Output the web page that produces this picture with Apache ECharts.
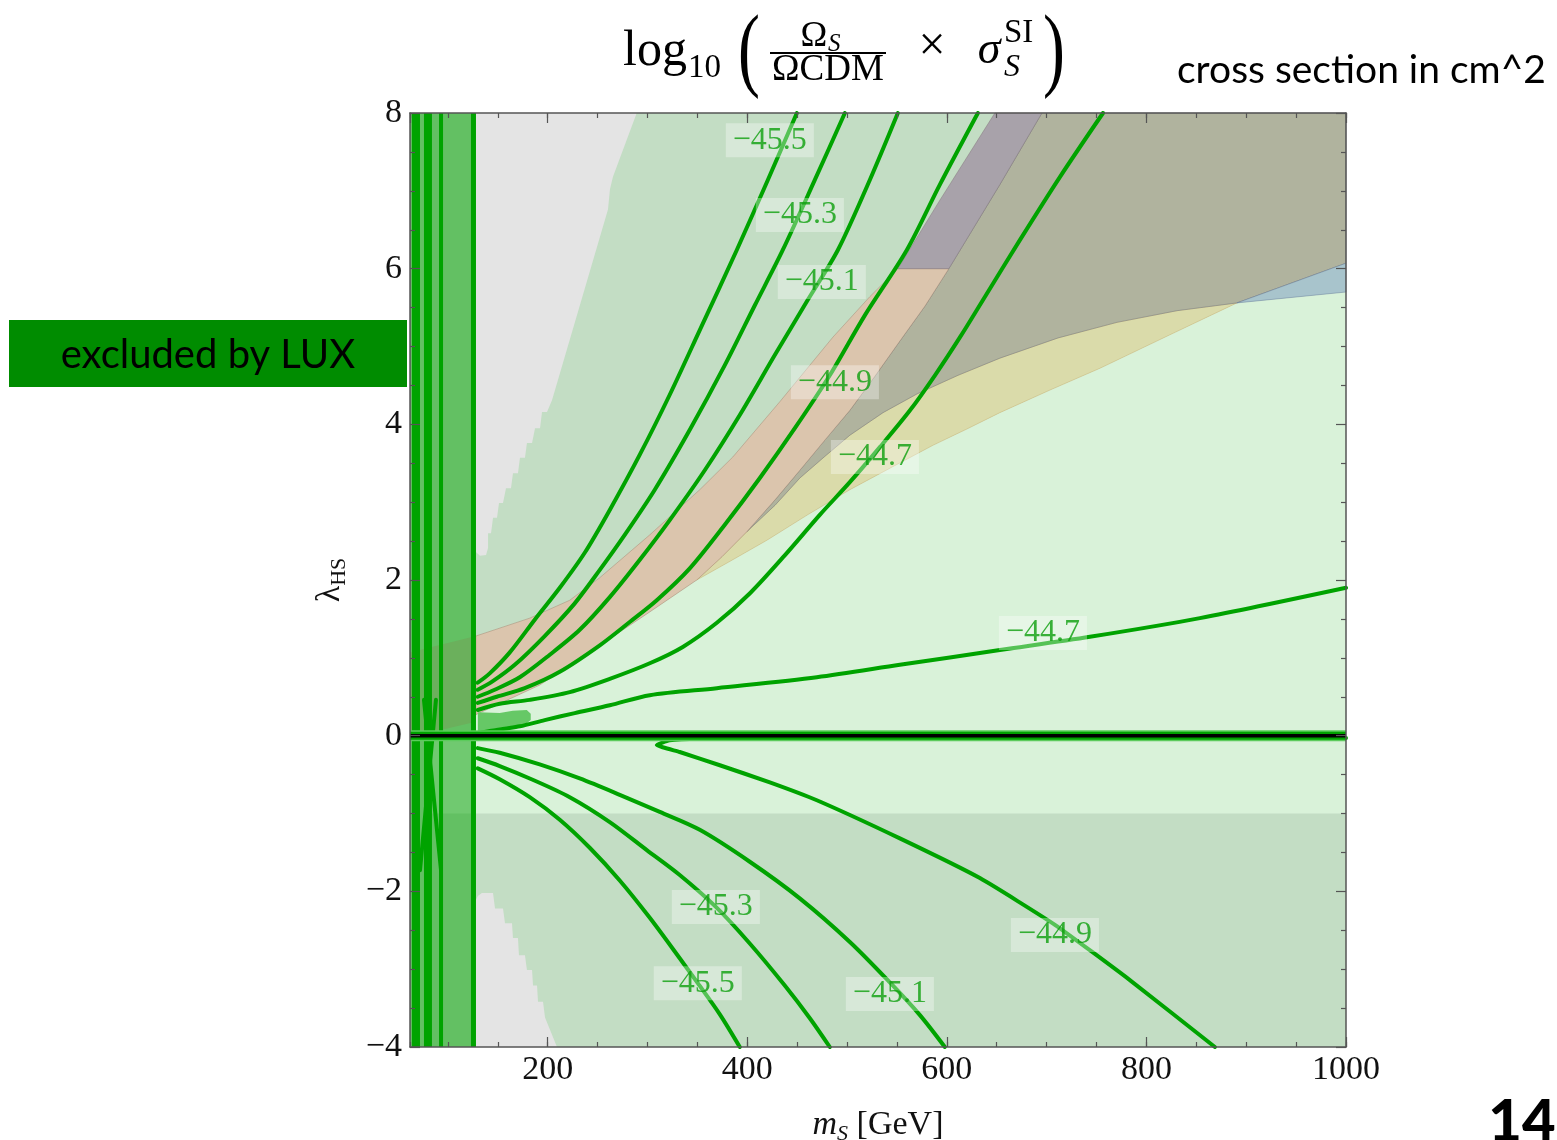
<!DOCTYPE html>
<html>
<head>
<meta charset="utf-8">
<script src="https://cdn.jsdelivr.net/npm/echarts@6/dist/echarts.min.js"></script>
<style>
html,body{margin:0;padding:0;background:#fff;}
#chart{width:1557px;height:1140px;}
</style>
</head>
<body>
<div id="chart"></div>
<script>
const xMin = 62, xMax = 1000;
const yMin = -4, yMax = 8;

// shaded regions, points are [mS, lambdaHS]
const grayTop = [[128,8],[289.2,8],[265.4,7.18],[262.4,7.02],[260.4,6.76],[204.3,4.31],[199.3,4.16],[194.3,4.16],[192.3,3.95],[187.3,3.95],[184.3,3.76],[179.2,3.76],[177.2,3.57],[172.2,3.57],[170.2,3.37],[165.2,3.37],[163.2,3.18],[158.2,3.18],[155.2,2.99],[151.2,2.99],[149.2,2.80],[145.2,2.80],[143.2,2.60],[140.2,2.60],[140.2,2.41],[138.2,2.32],[132.1,2.31],[128,2.36]];
const grayBottom = [[128,-2.11],[130,-2.06],[134,-2.02],[145.2,-2.02],[147.2,-2.22],[155.2,-2.22],[157.2,-2.41],[164.2,-2.41],[165.2,-2.60],[170.2,-2.60],[171.2,-2.82],[177.2,-2.82],[179.2,-3.01],[184.3,-3.01],[185.3,-3.21],[189.3,-3.21],[190.3,-3.42],[195.3,-3.42],[197.3,-3.62],[209.3,-4],[128,-4]];

// region edges
const edgeV = [[128,0.27],[192,0.65],[252.2,1.16],[302.3,1.59],[349.4,2.0],[374.7,2.30],[399.5,2.62],[427.8,3.03],[452.7,3.41],[477.9,3.80],[502.8,4.18],[528,4.62],[552.9,5.07],[578.1,5.52],[602,6.0],[653.1,7.08],[695.3,8]];
const edgeW = [[399.5,2.62],[427.8,2.96],[452.7,3.31],[477.9,3.59],[502.8,3.86],[536,4.15],[570,4.39],[611.2,4.63],[653.1,4.85],[711.4,5.11],[770.4,5.31],[830.6,5.46],[890.7,5.56],[943.8,5.64],[1000,5.70]];
const edgeY = [[349.4,2.0],[382.7,2.24],[419.6,2.51],[460.8,2.84],[502.8,3.16],[544.9,3.45],[586,3.73],[620.1,3.94],[653.1,4.15],[703.3,4.44],[753.4,4.72],[823.5,5.15],[890.7,5.56],[943.8,5.82],[1000,6.07]];
const edgeU = [[128,1.28],[182,1.51],[222.1,1.74],[252.2,2.03],[302.3,2.58],[352.4,3.16],[385.5,3.58],[432.6,4.29],[485.8,5.12],[522.8,5.64],[550.9,6.0]];
const purpleRegion = [[550.9,6.0],[593,6.88],[648.1,8],[695.3,8],[653.1,7.08],[602,6.0]];
const luxBand = [[62,-4],[128,-4],[128,8],[62,8]];
const luxBandTan = [[62,1.07],[128,1.28],[128,0.18],[91.8,0.07],[62,0.01]];
const luxBandLight = [[84,0],[128,0],[128,-1],[84,-1]];
const luxBlob = [[130,0.30],[151.9,0.29],[165,0.32],[179,0.33],[183,0.28],[183,0.20],[179,0.16],[168,0.12],[151.9,0.10],[130,0.05]];

// contour lines
const up455 = [[129.9,0.68],[141.9,0.80],[162,1.07],[187,1.49],[212.1,1.90],[237.1,2.35],[262.2,2.90],[292.3,3.61],[322.3,4.38],[352.4,5.21],[389.5,6.24],[420.6,7.14],[449.7,8]];
const up453 = [[129.9,0.59],[143.9,0.69],[167,0.91],[197,1.28],[227.1,1.70],[252.2,2.13],[277.2,2.58],[307.3,3.16],[342.4,3.93],[377.5,4.76],[407.6,5.53],[435.6,6.24],[467.7,7.14],[497.8,8]];
const up451 = [[129.9,0.50],[146.9,0.59],[172,0.75],[202.1,1.04],[232.1,1.36],[262.2,1.78],[292.3,2.26],[322.3,2.77],[357.4,3.41],[392.5,4.12],[427.6,4.89],[460.7,5.60],[490.8,6.24],[522.8,7.14],[550.9,8]];
const up449 = [[129.9,0.42],[148.9,0.50],[177,0.61],[212.1,0.82],[252.2,1.16],[282.2,1.46],[309.3,1.74],[342.4,2.15],[377.5,2.71],[412.6,3.31],[447.7,3.95],[482.7,4.63],[517.8,5.40],[559.9,6.24],[593,7.08],[631.1,8]];
const up447 = [[129.9,0.33],[151.9,0.41],[182,0.46],[222.1,0.56],[262.2,0.73],[302.3,0.93],[335.4,1.14],[369.5,1.45],[402.7,1.83],[437.8,2.32],[472.9,2.84],[503,3.26],[533.1,3.71],[563.1,4.18],[588.1,4.63],[613.2,5.12],[638.2,5.64],[673.3,6.37],[713.4,7.18],[756.5,8]];
const low447 = [[129,0.03],[141.9,0.06],[157,0.09],[172,0.12],[197,0.20],[227.1,0.29],[262.2,0.39],[302.3,0.52],[369.5,0.61],[469.7,0.75],[552.9,0.91],[653.1,1.10],[743.4,1.27],[853.6,1.51],[1000,1.90]];
const dn455 = [[129.9,-0.42],[151.9,-0.56],[182,-0.79],[212.1,-1.08],[242.1,-1.44],[272.2,-1.86],[302.3,-2.34],[332.3,-2.86],[350.4,-3.18],[372.5,-3.58],[392.5,-4]];
const dn453 = [[129.9,-0.29],[151.9,-0.39],[182,-0.55],[222.1,-0.79],[262.2,-1.11],[299.3,-1.47],[332.3,-1.79],[368.5,-2.20],[402.5,-2.67],[437.6,-3.21],[462.7,-3.63],[482.7,-4]];
const dn451 = [[129.9,-0.16],[151.9,-0.22],[192,-0.37],[232.1,-0.55],[272.2,-0.76],[312.3,-0.98],[352.4,-1.21],[402.5,-1.62],[452.6,-2.09],[502.8,-2.65],[542.9,-3.17],[573,-3.59],[598,-4]];
const dn449 = [[1000,-0.03],[653.1,-0.03],[452.7,-0.035],[352.4,-0.04],[322,-0.06],[309.3,-0.12],[332.3,-0.21],[372.5,-0.38],[422.6,-0.60],[469.7,-0.83],[552.9,-1.32],[633.1,-1.83],[708.3,-2.43],[783.4,-3.14],[868.6,-4]];
const zeroLine = [[62,0],[1000,0]];

// LUX band vertical lines: [mS, width]
const bandLines = [[68,8],[80,8],[93.1,4],[125.6,5]];
const bandCross1 = [[76,0.46],[93.1,-1.73]];
const bandCross2 = [[88,0.46],[72,-1.73]];

// contour labels
const labelPos = [[422.6,7.65],[452.7,6.69],[474.7,5.83],[487.8,4.54],[527.9,3.58],[696.3,1.32],[368.5,-2.20],[350.4,-3.18],[542.9,-3.32],[708.3,-2.56]];
const labelText = ['−45.5','−45.3','−45.1','−44.9','−44.7','−44.7','−45.3','−45.5','−45.1','−44.9'];

// polygons assembled from the edges
const rev = a => a.slice().reverse();
const vLow = edgeV.slice(0, 5);                 // band edge up to the yellow tip
const vMid = edgeV.slice(4, 7);                 // yellow tip up to the olive tip
const vHigh = edgeV.slice(6);                   // olive tip up to the top
const mintRegion = vLow.concat(edgeY.slice(1, 13), [[1000, 5.70], [1000, -1], [128, -1]]);
const yellowRegion = vMid.concat(edgeW.slice(1, 13), rev(edgeY.slice(1, 12)));
const oliveRegion = vHigh.concat([[1000, 8]], [edgeY[14]], rev(edgeW.slice(1, 13)));
const blueRegion = [edgeW[12], edgeY[14], edgeW[14]];
const tanRegion = edgeU.concat(rev(edgeV.slice(0, 15)));

const serif = '"Liberation Serif", "Times New Roman", serif';
const lineGreen = '#00a300';

function area(pts, fill, z, stroke) {
    return {
        type: 'custom',
        z: z,
        silent: true,
        data: pts,
        renderItem(params, api) {
            if (params.dataIndex !== 0) return null;
            return {
                type: 'polygon',
                shape: { points: pts.map(p => api.coord(p)) },
                style: { fill: fill, stroke: stroke || null, lineWidth: 1 }
            };
        }
    };
}

function curve(pts, width, color, z, smooth, cap) {
    return {
        type: 'line',
        data: pts,
        showSymbol: false,
        silent: true,
        smooth: smooth === undefined ? 0.3 : smooth,
        z: z || 5,
        lineStyle: { color: color || lineGreen, width: width || 4, cap: cap || 'round', join: 'round' }
    };
}

const frameColor = '#555';
function xAx(pos, major) {
    return {
        type: 'value', min: xMin, max: xMax, position: pos, z: 10,
        minInterval: major ? 200 : 50, maxInterval: major ? 200 : 50,
        axisLine: { show: major, onZero: false, lineStyle: { color: frameColor, width: 1.5 } },
        axisTick: { inside: true, length: major ? 10 : 5, lineStyle: { color: frameColor, width: 1.2 } },
        axisLabel: { show: major && pos === 'bottom', showMinLabel: false, fontFamily: serif, fontSize: 34, color: '#111', margin: 6,
            formatter: v => String(v) },
        splitLine: { show: false }
    };
}
function yAx(pos) {
    return {
        type: 'value', min: yMin, max: yMax, interval: 2, position: pos, z: 10,
        axisLine: { show: true, onZero: false, lineStyle: { color: frameColor, width: 1.5 } },
        axisTick: { inside: true, length: 10, lineStyle: { color: frameColor, width: 1.2 } },
        minorTick: { show: true, splitNumber: 4, length: 5, lineStyle: { color: frameColor, width: 1.2 } },
        axisLabel: { show: pos === 'left', fontFamily: serif, fontSize: 34, color: '#111', margin: 8,
            formatter: v => String(v).replace('-', '−') },
        splitLine: { show: false }
    };
}

const xMain = xAx('bottom', true);
xMain.name = '{i|m}{s|S} [GeV]';
xMain.nameLocation = 'middle';
xMain.nameGap = 58;
xMain.nameTextStyle = { fontFamily: serif, fontSize: 34, color: '#111',
    rich: { i: { fontFamily: serif, fontSize: 34, fontStyle: 'italic', lineHeight: 40 },
            s: { fontFamily: serif, fontSize: 22, fontStyle: 'italic', lineHeight: 22, verticalAlign: 'bottom' } } };
const yMain = yAx('left');
yMain.name = '{l|λ}{s|HS}';
yMain.nameLocation = 'middle';
yMain.nameRotate = 90;
yMain.nameGap = 60;
yMain.nameTextStyle = { fontFamily: serif, fontSize: 34, color: '#111',
    rich: { l: { fontFamily: serif, fontSize: 34, lineHeight: 40 },
            s: { fontFamily: serif, fontSize: 22, lineHeight: 22, verticalAlign: 'bottom' } } };

const series = [
    area(grayTop, '#e4e4e4', 1),
    area(grayBottom, '#e4e4e4', 1),
    area(mintRegion, '#d9f2d9', 1),
    area(yellowRegion, '#dadbaa', 1, 'rgba(200,160,90,0.35)'),
    area(oliveRegion, '#b0b39e', 1, 'rgba(90,90,110,0.35)'),
    area(blueRegion, '#a8c4cc', 1, 'rgba(90,110,150,0.4)'),
    area(tanRegion, '#dbc5ad', 1, 'rgba(150,110,90,0.35)'),
    area(purpleRegion, '#a8a2aa', 1, 'rgba(120,100,110,0.4)'),
    area(luxBand, '#63c063', 2),
    area(luxBandTan, '#6bb05c', 2),
    area(luxBandLight, '#70c970', 2),
    area(luxBlob, '#66c866', 2)
];
bandLines.forEach(b => series.push(curve([[b[0], yMin], [b[0], yMax]], b[1], lineGreen, 4, false, 'butt')));
series.push(curve(bandCross1, 4, lineGreen, 4, false));
series.push(curve(bandCross2, 4, lineGreen, 4, false));
[up455, up453, up451, up449, up447, low447, dn455, dn453, dn451].forEach(c => series.push(curve(c)));
series.push(curve(dn449, 4, lineGreen, 5, 0.15));
series.push(curve(zeroLine, 11, '#5ccb5c', 6, false, 'butt'));
series.push(curve(zeroLine, 8, '#00a300', 6, false, 'butt'));
series.push(curve(zeroLine, 3.5, '#000', 6, false, 'butt'));
series.push({
    type: 'scatter',
    z: 8,
    silent: true,
    symbolSize: 1,
    itemStyle: { color: 'rgba(0,0,0,0)' },
    data: labelPos.map((p, i) => ({ value: p, label: { formatter: labelText[i] } })),
    label: {
        show: true, position: 'inside', fontFamily: serif, fontSize: 32, color: '#0c9f0c',
        backgroundColor: 'rgba(255,255,255,0.42)', padding: [2, 7, 0, 7]
    }
});

function txt(x, y, text, font, align, extra) {
    return Object.assign({
        type: 'text', x: x, y: y, z: 100,
        style: { text: text, font: font, fill: '#000', align: align || 'center', verticalAlign: 'middle',
            textAlign: align || 'center', textVerticalAlign: 'middle' }
    }, extra || {});
}

const chart = echarts.init(document.getElementById('chart'));
chart.setOption({
    animation: false,
    grid: { left: 410, top: 113, width: 936, height: 934, show: true, backgroundColor: '#c3ddc4', borderWidth: 0,
        containLabel: false, outerBoundsMode: 'none' },
    xAxis: [xMain, xAx('bottom', false), xAx('top', true), xAx('top', false)],
    yAxis: [yMain, yAx('right')],
    series: series,
    graphic: [
        txt(623, 52, 'log', '50px ' + serif, 'left'),
        txt(688, 68, '10', '33px ' + serif, 'left'),
        txt(749, 54, '(', '94px ' + serif, 'center', { scaleX: 0.7 }),
        txt(814, 37, 'Ω', '36px ' + serif),
        txt(828, 44, 'S', 'italic 25px ' + serif, 'left'),
        { type: 'line', z: 100, shape: { x1: 770, y1: 53, x2: 886, y2: 53 }, style: { stroke: '#000', lineWidth: 1.8 } },
        txt(828, 70, 'ΩCDM', '37px ' + serif),
        txt(932, 47, '×', '48px ' + serif),
        txt(989, 51, 'σ', 'italic 46px ' + serif),
        txt(1004, 33, 'SI', '33px ' + serif, 'left'),
        txt(1004, 68, 'S', 'italic 32px ' + serif, 'left'),
        txt(1054, 54, ')', '94px ' + serif, 'center', { scaleX: 0.7 }),
        txt(1177, 70, 'cross section in cm^2', '39px Lato', 'left'),
        { type: 'rect', z: 100, shape: { x: 9, y: 320, width: 398, height: 67 }, style: { fill: '#008c00' } },
        txt(208, 355, 'excluded by LUX', '40px Lato'),
        txt(1522, 1122, '14', '900 58px Lato')
    ]
});
</script>
</body>
</html>
